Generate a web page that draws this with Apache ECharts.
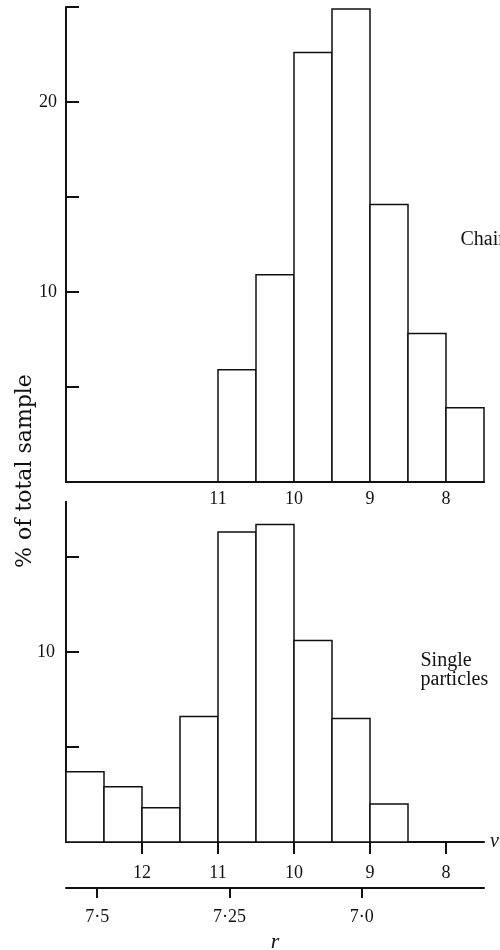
<!DOCTYPE html>
<html>
<head>
<meta charset="utf-8">
<script src="https://cdn.jsdelivr.net/npm/echarts@6/dist/echarts.min.js"></script>
<style>
  html, body { margin: 0; padding: 0; background: #fff; }
  #chart { width: 500px; height: 950px; }
</style>
</head>
<body>
<div id="chart"></div>
<script>
// Size distribution (v) of chains and single particles, % of total sample per half-unit bin
const binWidth = 0.5;

// Chains: bins starting at these v values (v decreasing to the right)
const chainBinStart = [11, 10.5, 10, 9.5, 9, 8.5, 8];
const chainPct = [5.9, 10.9, 22.6, 24.9, 14.6, 7.8, 3.9];

// Single particles
const singleBinStart = [13, 12.5, 12, 11.5, 11, 10.5, 10, 9.5, 9];
const singlePct = [3.7, 2.9, 1.8, 6.6, 16.3, 16.7, 10.6, 6.5, 2.0];

// Axis ticks and labels
const chainYTicks = [5, 10, 15, 20, 25];
const chainYLabels = [10, 20];
const singleYTicks = [5, 10, 15];
const singleYLabels = [10];
const chainVLabels = [11, 10, 9, 8];
const singleVTicks = [12, 11, 10, 9, 8];
const rTicks = [7.5, 7.25, 7.0];
const rTickLabels = ['7·5', '7·25', '7·0'];

const vMin = 7.5, vMax = 13;
const ink = '#111';
const numFont = { fontFamily: 'Liberation Serif', fontSize: 18, color: ink };

function toBins(starts, pcts) {
  return starts.map((s, i) => [s, s - binWidth, pcts[i]]);
}

function renderBin(params, api) {
  const a = api.coord([api.value(0), 0]);
  const b = api.coord([api.value(1), api.value(2)]);
  const x = Math.min(a[0], b[0]);
  const y = Math.min(a[1], b[1]);
  return {
    type: 'rect',
    shape: { x: x, y: y, width: Math.abs(b[0] - a[0]), height: Math.abs(a[1] - b[1]) },
    style: { fill: '#fff', stroke: ink, lineWidth: 1.5 }
  };
}

function vAxisBase(gridIndex) {
  return {
    type: 'value', gridIndex: gridIndex, min: vMin, max: vMax, inverse: true,
    splitLine: { show: false },
    axisLine: { show: true, onZero: false, lineStyle: { color: ink, width: 2 } }
  };
}

const chart = echarts.init(document.getElementById('chart'), null, { renderer: 'canvas' });

chart.setOption({
  backgroundColor: '#fff',
  animation: false,
  grid: [
    { left: 66, top: 7, width: 418, height: 474.7, outerBoundsMode: 'none', containLabel: false },
    { left: 66, top: 501.7, width: 418, height: 340.3, outerBoundsMode: 'none', containLabel: false }
  ],
  xAxis: [
    Object.assign(vAxisBase(0), {
      axisTick: { show: false },
      axisLabel: Object.assign({ customValues: chainVLabels, margin: 9 }, numFont)
    }),
    Object.assign(vAxisBase(1), {
      // axis is inverted, so its far right end is the 'start'
      name: 'v', nameLocation: 'start', nameGap: 6,
      nameTextStyle: { fontFamily: 'Liberation Serif', fontStyle: 'italic', fontSize: 20, color: ink, verticalAlign: 'middle' },
      axisTick: { show: true, customValues: singleVTicks, inside: false, length: 12, lineStyle: { color: ink, width: 2 } },
      axisLabel: Object.assign({ customValues: singleVTicks, margin: 22 }, numFont)
    }),
    {
      type: 'value', gridIndex: 1, position: 'bottom', offset: 46,
      min: 6.769, max: 7.559, inverse: true,
      name: 'r', nameLocation: 'middle', nameGap: 43,
      nameTextStyle: { fontFamily: 'Liberation Serif', fontStyle: 'italic', fontSize: 22, color: ink },
      splitLine: { show: false },
      axisLine: { show: true, onZero: false, lineStyle: { color: ink, width: 2 } },
      axisTick: { show: true, customValues: rTicks, inside: false, length: 10, lineStyle: { color: ink, width: 2 } },
      axisLabel: Object.assign({
        customValues: rTicks, margin: 20,
        formatter: v => rTickLabels[rTicks.indexOf(v)]
      }, numFont)
    }
  ],
  yAxis: [
    {
      type: 'value', gridIndex: 0, min: 0, max: 25,
      splitLine: { show: false },
      axisLine: { show: true, lineStyle: { color: ink, width: 2 } },
      axisTick: { show: true, customValues: chainYTicks, inside: true, length: 13, lineStyle: { color: ink, width: 2 } },
      axisLabel: Object.assign({ customValues: chainYLabels, margin: 9 }, numFont)
    },
    {
      type: 'value', gridIndex: 1, min: 0, max: 17.9,
      splitLine: { show: false },
      axisLine: { show: true, lineStyle: { color: ink, width: 2 } },
      axisTick: { show: true, customValues: singleYTicks, inside: true, length: 13, lineStyle: { color: ink, width: 2 } },
      axisLabel: Object.assign({ customValues: singleYLabels, margin: 11 }, numFont)
    }
  ],
  series: [
    {
      name: 'Chains', type: 'custom', xAxisIndex: 0, yAxisIndex: 0,
      data: toBins(chainBinStart, chainPct), renderItem: renderBin
    },
    {
      name: 'Single particles', type: 'custom', xAxisIndex: 1, yAxisIndex: 1,
      data: toBins(singleBinStart, singlePct), renderItem: renderBin
    }
  ],
  graphic: [
    {
      type: 'text', x: 25, y: 471, rotation: Math.PI / 2,
      style: { text: '% of total sample', fontFamily: 'DejaVu Serif', fontSize: 22, fill: ink, align: 'center', verticalAlign: 'middle' }
    },
    {
      type: 'text', x: 460.5, y: 240,
      style: { text: 'Chains', fontFamily: 'Liberation Serif', fontSize: 20, fill: ink, align: 'left', verticalAlign: 'middle' }
    },
    {
      type: 'text', x: 420.5, y: 670,
      style: { text: 'Single\nparticles', fontFamily: 'Liberation Serif', fontSize: 20, lineHeight: 19, fill: ink, align: 'left', verticalAlign: 'middle' }
    }
  ]
});
</script>
</body>
</html>
